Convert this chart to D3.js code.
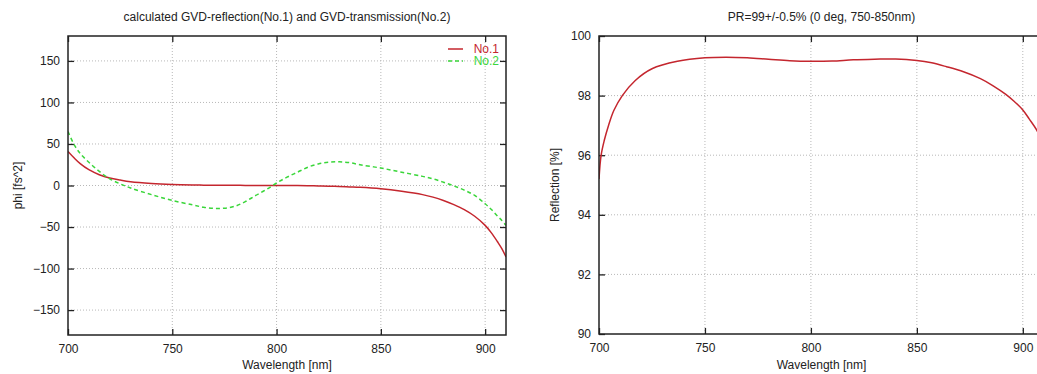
<!DOCTYPE html>
<html><head><meta charset="utf-8">
<script src="https://cdn.jsdelivr.net/npm/d3@7"></script>
<style>
body{margin:0;background:#fff;}
svg{display:block;font-family:"Liberation Sans",Arial,sans-serif;}
</style></head><body>
<svg id="c" width="1037" height="374"></svg>
<script>
// ---- data ----
const gvdWavelengths = [700,703,706,710,715,720,725,730,740,750,760,765,770,775,780,785,790,795,800,805,810,815,820,825,830,835,840,850,860,870,875,880,885,890,895,900,903,906,908,910];
const no1Values = [41,33,26,19,13,9,6.5,4.5,2.4,1.2,0.6,0.45,0.3,0.25,0.2,0.15,0.1,0.05,0,0,0,-0.2,-0.5,-0.8,-1.2,-1.7,-2.2,-4,-7,-11,-14,-18,-23,-29,-37,-48,-57,-68,-76,-86];
const no2Values = [65,49,38,28,17,8,2,-3,-11,-18,-23.5,-26.2,-27.6,-27.3,-25,-19.5,-12,-5,3,10,16,22,26,28,28.5,27.5,25,21,16,11,8,4,-0.5,-5.5,-12,-22,-29,-37,-42,-48];
const reflWavelengths = [700,701,702.5,704.5,707,711,717,725,737,750,760,770,780,790,800,810,820,830,840,850,857,864,872,880,886,892,896,900,903,906.5,910];
const reflValues = [95.2,96.0,96.5,97.0,97.5,98.0,98.5,98.9,99.15,99.27,99.29,99.27,99.22,99.17,99.15,99.16,99.2,99.22,99.23,99.18,99.1,98.97,98.8,98.57,98.33,98.04,97.8,97.52,97.22,96.85,96.3];
const xTicks = [700,750,800,850,900];
const gvdTicks = [-150,-100,-50,0,50,100,150];
const reflTicks = [90,92,94,96,98,100];
const seriesNames = ["No.1","No.2"];

const RED = "#c4262e", GREEN = "#3ad63a";
const FS = "12px";
const svg = d3.select("#c");

function panel(o){
  const g = svg.append("g");
  const x = d3.scaleLinear().domain(o.xDomain).range([o.left,o.right]);
  const y = d3.scaleLinear().domain(o.yDomain).range([o.bottom,o.top]);
  const clipId = "clip"+o.id;
  svg.append("clipPath").attr("id",clipId).append("rect")
    .attr("x",o.left).attr("y",o.top).attr("width",o.right-o.left).attr("height",o.bottom-o.top);
  // grid
  g.selectAll(".gx").data(o.xTicks.filter(t=>t>o.xDomain[0]&&t<o.xDomain[1])).enter().append("line")
    .attr("x1",d=>x(d)).attr("x2",d=>x(d)).attr("y1",o.top).attr("y2",o.bottom)
    .attr("stroke","#b8b8b8").attr("stroke-width",1).attr("stroke-dasharray","1,2");
  g.selectAll(".gy").data(o.yTicks.filter(t=>t>o.yDomain[0]&&t<o.yDomain[1])).enter().append("line")
    .attr("y1",d=>y(d)).attr("y2",d=>y(d)).attr("x1",o.left).attr("x2",o.right)
    .attr("stroke","#b8b8b8").attr("stroke-width",1).attr("stroke-dasharray","1,2");
  // axes with inward ticks
  const ax = (gen, tr, ticks, fmt) => g.append("g").attr("transform",tr)
      .call(gen.tickValues(ticks).tickSizeInner(-6).tickSizeOuter(0).tickPadding(8).tickFormat(fmt))
      .call(s=>s.select(".domain").remove())
      .call(s=>s.selectAll(".tick line").attr("stroke","#222").attr("stroke-width",1.3))
      .call(s=>s.selectAll(".tick text").attr("fill","#222").style("font-size",FS).style("font-family","Liberation Sans, Arial, sans-serif"));
  ax(d3.axisBottom(x), `translate(0,${o.bottom})`, o.xTicks, d3.format("d")).selectAll(".tick text").attr("dy","0.85em");
  ax(d3.axisTop(x), `translate(0,${o.top})`, o.xTicks, ()=>"");
  ax(d3.axisLeft(y), `translate(${o.left},0)`, o.yTicks, d3.format("d"));
  ax(d3.axisRight(y), `translate(${o.right},0)`, o.yTicks, ()=>"");
  // lines
  const line = d3.line().x(d=>x(d[0])).y(d=>y(d[1])).curve(d3.curveCatmullRom.alpha(0.5));
  o.series.forEach(s=>{
    g.append("path").attr("clip-path",`url(#${clipId})`)
      .datum(s.xs.map((v,i)=>[v,s.ys[i]]))
      .attr("d",line).attr("fill","none").attr("stroke",s.color)
      .attr("stroke-width",1.5).attr("stroke-dasharray",s.dash||null);
  });
  // frame
  g.append("rect").attr("x",o.left).attr("y",o.top).attr("width",o.right-o.left).attr("height",o.bottom-o.top)
    .attr("fill","none").attr("stroke","#222").attr("stroke-width",1.5);
  // titles
  const cx = (o.left+o.right)/2;
  g.append("text").attr("x",cx).attr("y",21).attr("text-anchor","middle")
    .style("font-size",FS).attr("fill","#222").text(o.title);
  g.append("text").attr("x",cx).attr("y",369).attr("text-anchor","middle")
    .style("font-size",FS).attr("fill","#222").text("Wavelength [nm]");
  g.append("text").attr("transform",`translate(${o.ylabelX},${(o.top+o.bottom)/2}) rotate(-90)`)
    .attr("text-anchor","middle").style("font-size",FS).attr("fill","#222").text(o.ylabel);
  return {x,y,g};
}

const p1 = panel({id:1,left:68,right:506,top:36,bottom:335,xDomain:[700,910],yDomain:[-180,180],
  xTicks:xTicks,yTicks:gvdTicks,title:"calculated GVD-reflection(No.1) and GVD-transmission(No.2)",
  ylabel:"phi [fs^2]",ylabelX:22,
  series:[{xs:gvdWavelengths,ys:no1Values,color:RED},{xs:gvdWavelengths,ys:no2Values,color:GREEN,dash:"4,3"}]});

// legend
[{n:seriesNames[0],c:RED,d:null,y:49},{n:seriesNames[1],c:GREEN,d:"4,3",y:61}].forEach(l=>{
  p1.g.append("line").attr("x1",448).attr("x2",463).attr("y1",l.y).attr("y2",l.y)
    .attr("stroke",l.c).attr("stroke-width",1.5).attr("stroke-dasharray",l.d);
  p1.g.append("text").attr("x",499).attr("y",l.y+4).attr("text-anchor","end")
    .style("font-size",FS).attr("fill",l.c).text(l.n);
});

panel({id:2,left:599,right:1044,top:36,bottom:334,xDomain:[700,910],yDomain:[90,100],
  xTicks:xTicks,yTicks:reflTicks,title:"PR=99+/-0.5% (0 deg, 750-850nm)",
  ylabel:"Reflection [%]",ylabelX:559,
  series:[{xs:reflWavelengths,ys:reflValues,color:RED}]});
</script>
</body></html>
